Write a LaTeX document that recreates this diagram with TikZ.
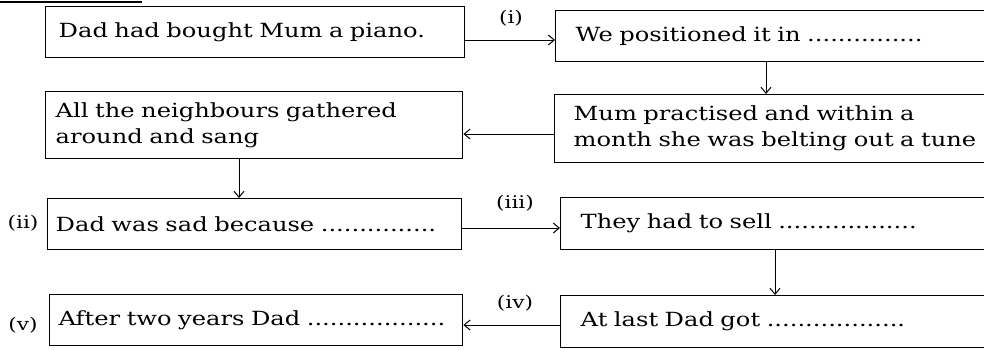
\documentclass[tikz,border=0pt]{standalone}
\usepackage{fontspec}
\setmainfont{DejaVu Serif}[FakeStretch=1.24]
\usetikzlibrary{arrows.meta}
\tikzset{
  box/.style={draw, line width=1.4pt, anchor=north west, align=left, inner ysep=0pt,
    font=\fontsize{19.5}{26}\selectfont},
  conn/.style={line width=1pt, -{Straight Barb[length=6pt,width=10pt]}},
  lbl/.style={inner sep=0pt, font=\fontsize{17.5}{20}\selectfont},
}
\begin{document}
\begin{tikzpicture}[x=1pt,y=-1pt]
\useasboundingbox (0,0) rectangle (984,349);
\clip (0,0) rectangle (984,349);
\draw[line width=1.2pt] (0,2) -- (142,2);
% boxes
\node[box, inner xsep=13pt, text width=393pt, minimum height=51pt] (b1) at (45,6) {Dad had bought Mum a piano.};
\node[box, inner xsep=20pt, text width=405pt, minimum height=51pt] (b2) at (555,10) {We positioned it in ...............};
\node[box, inner xsep=19pt, text width=420pt, minimum height=68pt] (b3) at (554,94) {Mum practised and within a\\month she was belting out a tune};
\node[box, inner xsep=10pt, text width=397pt, minimum height=67pt] (b4) at (45,91) {All the neighbours gathered\\around and sang};
\node[box, inner xsep=8pt, text width=398pt, minimum height=51pt] (b5) at (47,198) {Dad was sad because ...............};
\node[box, inner xsep=20pt, text width=400pt, minimum height=52pt] (b6) at (560,197) {They had to sell ..................};
\node[box, inner xsep=20pt, text width=400pt, minimum height=52pt] (b7) at (560,295) {At last Dad got ..................};
\node[box, inner xsep=9pt, text width=395pt, minimum height=51pt] (b8) at (49,294) {After two years Dad ..................};
% labels
\node[lbl] (l1) at (511,18) {(i)};
\node[lbl] (l2) at (23,223) {(ii)};
\node[lbl] (l3) at (515,203) {(iii)};
\node[lbl] (l4) at (515,303) {(iv)};
\node[lbl] (l5) at (23,325) {(v)};
% guide coordinates
\coordinate (c1) at (766,0);
\coordinate (c2) at (239,0);
\coordinate (c3) at (775,0);
\coordinate (r1) at (0,40);
\coordinate (r2) at (0,134);
\coordinate (r3) at (0,228);
\coordinate (r4) at (0,325);
% connectors
\draw[conn] (b1.east |- r1) -- (b2.west |- r1);
\draw[conn] (b2.south -| c1) -- (b3.north -| c1);
\draw[conn] (b3.west |- r2) -- (b4.east |- r2);
\draw[conn] (b4.south -| c2) -- (b5.north -| c2);
\draw[conn] (b5.east |- r3) -- (b6.west |- r3);
\draw[conn] (b6.south -| c3) -- (b7.north -| c3);
\draw[conn] (b7.west |- r4) -- (b8.east |- r4);
\end{tikzpicture}
\end{document}
